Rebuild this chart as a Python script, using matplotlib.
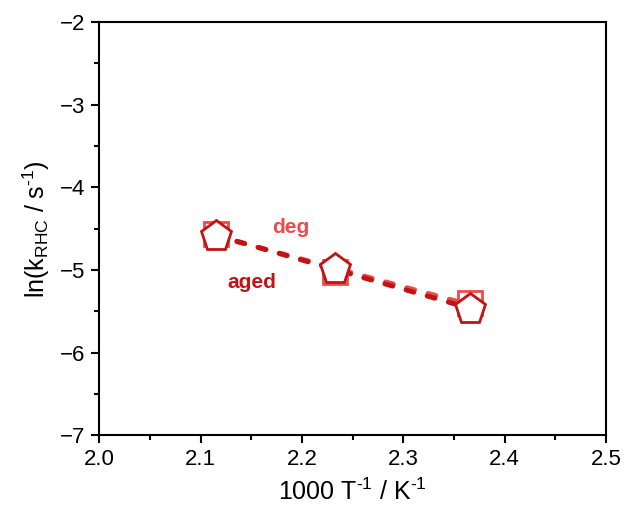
import numpy as np
import matplotlib
matplotlib.use("Agg")
import matplotlib.pyplot as plt

plt.rcParams['font.family'] = ['Liberation Sans', 'DejaVu Sans']
plt.rcParams['mathtext.fontset'] = 'custom'
plt.rcParams['mathtext.rm'] = 'Liberation Sans'
plt.rcParams['mathtext.it'] = 'Liberation Sans:italic'

# Data
x_deg = [2.115, 2.233, 2.366]
y_deg = [-4.56, -5.03, -5.40]
x_aged = [2.115, 2.233, 2.366]
y_aged = [-4.585, -4.985, -5.47]

c_deg = "#EE4B4B"
c_aged = "#C21414"

fig = plt.figure(figsize=(6.28, 5.15), dpi=100)
ax = fig.add_axes([0.158, 0.155, 0.807, 0.802])

for xs, ys, c in [(x_deg, y_deg, c_deg), (x_aged, y_aged, c_aged)]:
    p = np.polyfit(xs, ys, 1)
    xf = np.array([xs[0], xs[-1]])
    ax.plot(xf, np.polyval(p, xf), ls=(0, (1.6, 2.8)), lw=3.6, color=c,
            dash_capstyle='round', zorder=2)

ax.plot(x_deg, y_deg, ls='none', marker='s', ms=17, mfc='white', mec=c_deg, mew=2, zorder=3)
ax.plot(x_aged, y_aged, ls='none', marker='p', ms=23, mfc='white', mec=c_aged, mew=2, zorder=4)

ax.text(2.189, -4.48, 'deg', color=c_deg, fontsize=15, fontweight='bold', ha='center', va='center')
ax.text(2.1505, -5.15, 'aged', color=c_aged, fontsize=15, fontweight='bold', ha='center', va='center')

ax.set_xlim(2.0, 2.5)
ax.set_ylim(-7, -2)
ax.set_xticks([2.0, 2.1, 2.2, 2.3, 2.4, 2.5])
ax.set_xticks([2.05, 2.15, 2.25, 2.35, 2.45], minor=True)
ax.set_yticks([-7, -6, -5, -4, -3, -2])
ax.set_yticks([-6.5, -5.5, -4.5, -3.5, -2.5], minor=True)
ax.set_xticklabels(['2.0', '2.1', '2.2', '2.3', '2.4', '2.5'])
ax.set_yticklabels(['\u22127', '\u22126', '\u22125', '\u22124', '\u22123', '\u22122'])

for s in ax.spines.values():
    s.set_linewidth(1.5)
ax.tick_params(which='major', direction='out', length=6, width=1.5, labelsize=16, pad=4)
ax.tick_params(which='minor', direction='out', length=3.5, width=1.5)

ax.set_xlabel(r'1000 T$^{\text{-}1}$ / K$^{\text{-}1}$', fontsize=18, labelpad=6)
ax.set_ylabel(r'ln(k$_{\mathrm{RHC}}$ / s$^{\text{-}1}$)', fontsize=18, labelpad=6)

fig.savefig('out.png', dpi=100)
